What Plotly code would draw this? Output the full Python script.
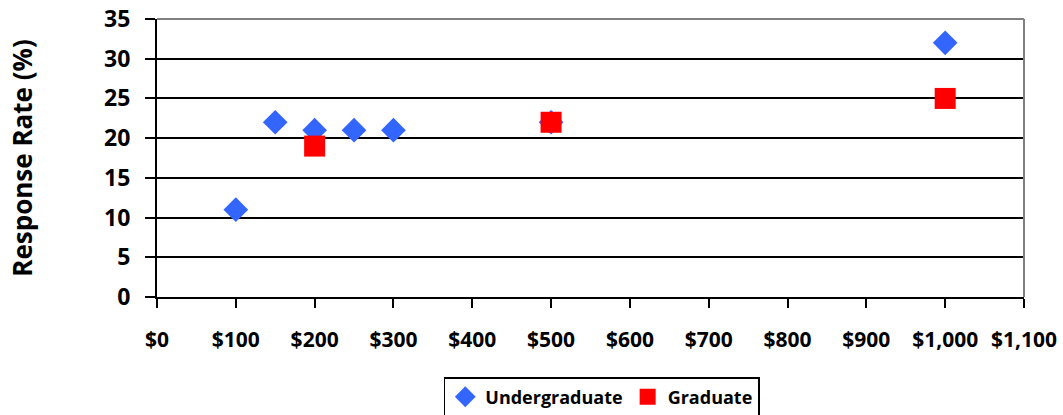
import plotly.graph_objects as go

ug_x = [100, 150, 200, 250, 300, 500, 1000]
ug_y = [11, 22, 21, 21, 21, 22, 32]
gr_x = [200, 500, 1000]
gr_y = [19, 22, 25]

FONT = "Open Sans"

fig = go.Figure()
fig.add_trace(go.Scatter(x=ug_x, y=ug_y, mode="markers", name="Undergraduate",
                         marker=dict(symbol="diamond", size=19, color="#3366FF")))
fig.add_trace(go.Scatter(x=gr_x, y=gr_y, mode="markers", name="Graduate",
                         marker=dict(symbol="square", size=21, color="#FF0000")))

fig.update_layout(
    width=1063, height=415,
    margin=dict(l=157, r=39, t=19, b=118, autoexpand=False),
    paper_bgcolor="white", plot_bgcolor="white",
    font=dict(family=FONT, size=18, color="black"),
    legend=dict(orientation="h", x=0.513, xanchor="center", y=-0.288, yanchor="top",
                bordercolor="black", borderwidth=1.5,
                font=dict(family=FONT, size=18, color="black", weight="bold"),
                itemwidth=30, tracegroupgap=0),
    shapes=[
        dict(type="line", xref="paper", yref="paper", x0=0, x1=1, y0=1, y1=1,
             line=dict(color="#808080", width=2)),
        dict(type="line", xref="paper", yref="paper", x0=1, x1=1, y0=0, y1=1,
             line=dict(color="#808080", width=2)),
    ],
)
fig.update_xaxes(range=[0, 1100], dtick=100, tick0=0, tickprefix="$", tickformat=",",
                 showgrid=False, zeroline=False, showline=True, linecolor="black",
                 linewidth=2, ticks="outside", ticklen=9, tickwidth=2, tickcolor="black",
                 ticklabelstandoff=14, automargin=False,
                 tickfont=dict(family=FONT, size=21, weight="bold"))
fig.update_yaxes(range=[0, 35], dtick=5, tick0=0,
                 showgrid=True, gridcolor="black", gridwidth=1.5, zeroline=False,
                 showline=True, linecolor="black", linewidth=2,
                 ticks="outside", ticklen=10, tickwidth=2, tickcolor="black",
                 ticklabelstandoff=10, automargin=False,
                 tickfont=dict(family=FONT, size=23, weight="bold"),
                 title=dict(text="Response Rate (%)", standoff=64,
                            font=dict(family=FONT, size=26, weight="bold")))

fig.write_html("out.html")
